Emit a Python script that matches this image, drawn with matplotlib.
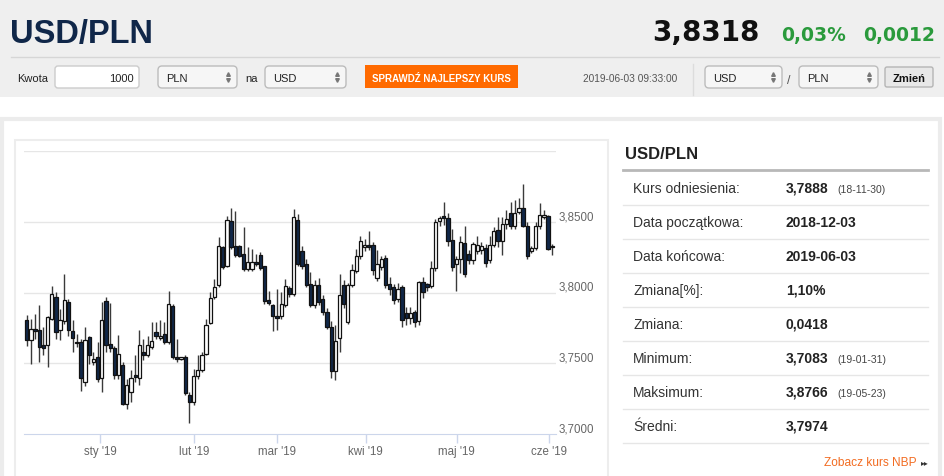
import matplotlib
matplotlib.use('Agg')
import matplotlib.pyplot as plt
from matplotlib.patches import Rectangle, FancyBboxPatch

plt.rcParams['font.family'] = ['Liberation Sans', 'DejaVu Sans']

# USD/PLN daily candles 2018-12-03 .. 2019-06-03
opens = [3.7808, 3.7662, 3.7740, 3.7733, 3.7627, 3.7632, 3.7815, 3.7967, 3.7733, 3.7796,
         3.7932, 3.7726, 3.7650, 3.7650, 3.7369, 3.7686, 3.7510, 3.7545, 3.7397, 3.7937,
         3.7640, 3.7610, 3.7420, 3.7490, 3.7216, 3.7298, 3.7416, 3.7397, 3.7580, 3.7557,
         3.7615, 3.7721, 3.7679, 3.7709, 3.7650, 3.7904, 3.7545, 3.7528, 3.7545, 3.7280,
         3.7228, 3.7411, 3.7451, 3.7568, 3.7786, 3.7967, 3.8052, 3.8319, 3.8190, 3.8507,
         3.8326, 3.8326, 3.8272, 3.8167, 3.8167, 3.8214, 3.8265, 3.8186, 3.7944, 3.7909,
         3.7838, 3.7833, 3.7909, 3.8033, 3.7991, 3.8514, 3.8296, 3.8203, 3.8063, 3.7911,
         3.8056, 3.7958, 3.7860, 3.7759, 3.7449, 3.7682, 3.8056, 3.7790, 3.8056, 3.8154,
         3.8257, 3.8318, 3.8332, 3.8332, 3.8103, 3.8178, 3.8243, 3.8063, 3.8040, 3.7955,
         3.8038, 3.7853, 3.7822, 3.7864, 3.7799, 3.8075, 3.8063, 3.8047, 3.8173, 3.8507,
         3.8537, 3.8523, 3.8374, 3.8203, 3.8238, 3.8350, 3.8273, 3.8231, 3.8290, 3.8297,
         3.8315, 3.8227, 3.8332, 3.8442, 3.8367, 3.8484, 3.8558, 3.8472, 3.8570, 3.8600,
         3.8472, 3.8292, 3.8315, 3.8472, 3.8535, 3.8542, 3.8325]
highs = [3.7843, 3.7815, 3.7850, 3.7909, 3.7756, 3.7838, 3.8049, 3.8003, 3.7885, 3.8131,
         3.7956, 3.7803, 3.7709, 3.7674, 3.7756, 3.7697, 3.7580, 3.7650, 3.7932, 3.7972,
         3.7927, 3.7620, 3.7700, 3.7510, 3.7392, 3.7451, 3.7557, 3.7733, 3.7674, 3.7697,
         3.7791, 3.7791, 3.7803, 3.7791, 3.8014, 3.7916, 3.7674, 3.7545, 3.7557, 3.7298,
         3.7463, 3.7557, 3.7580, 3.7815, 3.8003, 3.8096, 3.8390, 3.8331, 3.8542, 3.8594,
         3.8577, 3.8336, 3.8460, 3.8319, 3.8308, 3.8272, 3.8284, 3.8190, 3.8014, 3.7920,
         3.8026, 3.8003, 3.8096, 3.8049, 3.8589, 3.8554, 3.8331, 3.8237, 3.8143, 3.8086,
         3.8100, 3.7985, 3.7890, 3.7800, 3.7771, 3.8133, 3.8086, 3.8070, 3.8203, 3.8308,
         3.8402, 3.8375, 3.8437, 3.8355, 3.8297, 3.8260, 3.8265, 3.8110, 3.8060, 3.8070,
         3.8050, 3.7900, 3.7900, 3.7880, 3.8085, 3.8110, 3.8070, 3.8220, 3.8520, 3.8540,
         3.8636, 3.8560, 3.8450, 3.8260, 3.8400, 3.8472, 3.8300, 3.8360, 3.8400, 3.8360,
         3.8340, 3.8400, 3.8460, 3.8530, 3.8530, 3.8580, 3.8640, 3.8650, 3.8670, 3.8766,
         3.8500, 3.8330, 3.8500, 3.8630, 3.8580, 3.8550, 3.8340]
lows = [3.7622, 3.7498, 3.7674, 3.7510, 3.7557, 3.7474, 3.7803, 3.7674, 3.7662, 3.7780,
        3.7697, 3.7580, 3.7615, 3.7303, 3.7341, 3.7498, 3.7486, 3.7369, 3.7298, 3.7580,
        3.7580, 3.7390, 3.7390, 3.7205, 3.7176, 3.7228, 3.7369, 3.7345, 3.7521, 3.7545,
        3.7603, 3.7674, 3.7662, 3.7639, 3.7639, 3.7533, 3.7510, 3.7521, 3.7275, 3.7083,
        3.7205, 3.7392, 3.7439, 3.7557, 3.7780, 3.7956, 3.8038, 3.8167, 3.8179, 3.8308,
        3.8249, 3.8249, 3.8155, 3.8155, 3.8155, 3.8190, 3.8162, 3.7920, 3.7909, 3.7726,
        3.7733, 3.7815, 3.7897, 3.7967, 3.7979, 3.8190, 3.8168, 3.8038, 3.7897, 3.7890,
        3.7910, 3.7840, 3.7740, 3.7400, 3.7386, 3.7584, 3.7888, 3.7780, 3.8040, 3.8140,
        3.8240, 3.8290, 3.8300, 3.8121, 3.8080, 3.8160, 3.8030, 3.7981, 3.7920, 3.7935,
        3.7760, 3.7771, 3.7780, 3.7759, 3.7771, 3.7960, 3.8010, 3.8030, 3.8150, 3.8470,
        3.8480, 3.8330, 3.8150, 3.8010, 3.8140, 3.8110, 3.8200, 3.8200, 3.8270, 3.8270,
        3.8180, 3.8210, 3.8320, 3.8320, 3.8262, 3.8450, 3.8450, 3.8450, 3.8555, 3.8460,
        3.8240, 3.8280, 3.8300, 3.8450, 3.8520, 3.8300, 3.8265]
closes = [3.7662, 3.7744, 3.7726, 3.7615, 3.7608, 3.7826, 3.7991, 3.7721, 3.7803, 3.7948,
          3.7733, 3.7679, 3.7646, 3.7397, 3.7662, 3.7557, 3.7533, 3.7388, 3.7803, 3.7627,
          3.7610, 3.7420, 3.7570, 3.7216, 3.7345, 3.7397, 3.7404, 3.7627, 3.7557, 3.7627,
          3.7655, 3.7697, 3.7697, 3.7650, 3.7916, 3.7545, 3.7533, 3.7542, 3.7294, 3.7228,
          3.7411, 3.7451, 3.7561, 3.7768, 3.7962, 3.8038, 3.8326, 3.8183, 3.8514, 3.8319,
          3.8265, 3.8261, 3.8167, 3.8214, 3.8218, 3.8202, 3.8171, 3.7937, 3.7927, 3.7838,
          3.7819, 3.7920, 3.8049, 3.7991, 3.8531, 3.8202, 3.8185, 3.8056, 3.7911, 3.8051,
          3.7930, 3.7864, 3.7759, 3.7449, 3.7659, 3.7986, 3.7916, 3.8056, 3.8157, 3.8257,
          3.8364, 3.8332, 3.8318, 3.8157, 3.8203, 3.8234, 3.8056, 3.8028, 3.7950, 3.8028,
          3.7803, 3.7822, 3.7853, 3.7794, 3.8075, 3.8005, 3.8040, 3.8173, 3.8500, 3.8526,
          3.8523, 3.8367, 3.8180, 3.8238, 3.8360, 3.8133, 3.8227, 3.8339, 3.8332, 3.8325,
          3.8208, 3.8332, 3.8437, 3.8367, 3.8484, 3.8519, 3.8472, 3.8558, 3.8593, 3.8472,
          3.8255, 3.8315, 3.8472, 3.8549, 3.8549, 3.8308, 3.8318]

month_labels = ["sty '19", "lut '19", "mar '19", "kwi '19", "maj '19", "cze '19"]
month_pos = [17.6, 40.1, 60.1, 81.3, 103.1, 125.3]
grid_levels = [3.75, 3.80, 3.85, 3.90]
price_labels = ['3,7000', '3,7500', '3,8000', '3,8500']
price_label_levels = [3.70, 3.75, 3.80, 3.85]

table_labels = ['Kurs odniesienia:', 'Data początkowa:', 'Data końcowa:', 'Zmiana[%]:',
                'Zmiana:', 'Minimum:', 'Maksimum:', 'Średni:']
table_values = ['3,7888', '2018-12-03', '2019-06-03', '1,10%', '0,0418',
                '3,7083', '3,8766', '3,7974']
table_dates = ['(18-11-30)', '', '', '', '', '(19-01-31)', '(19-05-23)', '']

NAVY = '#102749'

fig = plt.figure(figsize=(9.45, 4.77), dpi=100)
bg = fig.add_axes([0, 0, 1, 1])
bg.set_xlim(0, 945)
bg.set_ylim(477, 0)
bg.axis('off')


def box(x0, y0, x1, y1, fc, ec, r=3, lw=1.0):
    bg.add_patch(FancyBboxPatch((x0, y0), x1 - x0, y1 - y0,
                                boxstyle='round,pad=0,rounding_size=%s' % r,
                                fc=fc, ec=ec, lw=lw))


def select(x0, x1, label):
    box(x0, 67, x1, 89, '#f6f6f6', '#bcbcbc', r=4)
    bg.text(x0 + 8, 82, label, fontsize=8, color='#222')
    bg.plot([x1 - 9], [75], marker='^', ms=2.6, color='#777')
    bg.plot([x1 - 9], [81], marker='v', ms=2.6, color='#777')


# --- header ---
bg.add_patch(Rectangle((0, 0), 945, 98, fc='#efefef', ec='none'))
bg.text(10, 43, 'USD/PLN', fontsize=23.5, weight='bold', color=NAVY)
bg.text(652, 41, '3,8318', fontsize=20, weight='bold', color='#111', family='DejaVu Sans')
bg.text(781, 41, '0,03%', fontsize=13.5, weight='bold', color='#2a9a3c', family='DejaVu Sans')
bg.text(863, 41, '0,0012', fontsize=13.5, weight='bold', color='#2a9a3c', family='DejaVu Sans')
bg.plot([11, 939], [58, 58], color='#d6d6d6', lw=1)

bg.text(17, 82, 'Kwota', fontsize=8, color='#222')
box(55, 67, 139, 89, 'white', '#cccccc', r=3)
bg.text(134, 82, '1000', fontsize=8, color='#222', ha='right')
select(158, 237, 'PLN')
bg.text(245, 82, 'na', fontsize=8, color='#222')
select(265, 346, 'USD')
bg.add_patch(Rectangle((365, 66), 153, 23, fc='#ff6a00', ec='none'))
bg.text(441.5, 81.5, 'SPRAWDŹ NAJLEPSZY KURS', fontsize=7, weight='bold', color='white',
        ha='center', family=['Liberation Sans Narrow', 'Liberation Sans', 'DejaVu Sans'])
bg.text(583, 82, '2019-06-03 09:33:00', fontsize=7.3, color='#555')
bg.plot([693, 693], [65, 96], color='#dcdcdc', lw=1)
select(705, 782, 'USD')
bg.text(787, 84, '/', fontsize=9, color='#555')
select(799, 878, 'PLN')
box(885, 68, 933, 88, '#e8e8e8', '#b5b5b5', r=2)
bg.text(909, 82, 'Zmień', fontsize=8, weight='bold', color='#111', ha='center')

# --- content panel ---
bg.add_patch(Rectangle((1.5, 119.5), 938, 380, fc='white', ec='#ececec', lw=3))
bg.add_patch(Rectangle((15, 141), 593, 350, fc='white', ec='#ededed', lw=1.5))

bg.text(625, 159, 'USD/PLN', fontsize=12, weight='bold', color='#222')
bg.plot([623, 928], [170.5, 170.5], color='#b8b8b8', lw=2)
for k in range(len(table_labels)):
    base = 193 + 34 * k
    bg.text(633, base, table_labels[k], fontsize=10, color='#333')
    bg.text(786, base, table_values[k], fontsize=10, weight='bold', color='#222')
    if table_dates[k]:
        bg.text(837, base, table_dates[k], fontsize=7.5, color='#444')
    bg.plot([623, 928], [205.5 + 34 * k] * 2, color='#e6e6e6', lw=1)
bg.text(824, 466, 'Zobacz kurs NBP', fontsize=8.6, color='#f26c22')
bg.text(921, 465, '▸▸', fontsize=5.5, color='#333', family='DejaVu Sans')

# --- candlestick chart ---
ax = fig.add_axes([24 / 945, 1 - 435.3 / 477, 532 / 945, (435.3 - 151.8) / 477])
ax.patch.set_alpha(0)
ax.set_xlim(-0.65, 126.9)
ax.set_ylim(3.70, 3.90)

for lvl in grid_levels:
    ax.axhline(lvl, color='#e6e6e6', lw=1, zorder=0)

x = list(range(len(opens)))
ax.vlines(x, lows, highs, color='#3a3a3a', lw=1, zorder=2)
bottoms = [min(o, c) for o, c in zip(opens, closes)]
heights = [max(abs(c - o), 0.0004) for o, c in zip(opens, closes)]
fills = [NAVY if c < o else 'white' for o, c in zip(opens, closes)]
ax.bar(x, heights, bottom=bottoms, width=0.78, color=fills, edgecolor='#111',
       linewidth=0.9, zorder=3)

for s in ['top', 'left', 'right']:
    ax.spines[s].set_visible(False)
ax.spines['bottom'].set_color('#ccd6eb')
ax.set_yticks([])
ax.set_xticks(month_pos)
ax.set_xticklabels(month_labels)
ax.tick_params(axis='x', length=6.5, width=1, color='#ccd6eb', labelcolor='#666',
               labelsize=8.3, pad=1.5)
for lvl, lab in zip(price_label_levels, price_labels):
    ax.annotate(lab, xy=(1, lvl), xycoords=('axes fraction', 'data'), xytext=(1.5, 4),
                textcoords='offset points', ha='left', va='center', fontsize=8.3,
                color='#666')

fig.savefig('out.png', dpi=100)
